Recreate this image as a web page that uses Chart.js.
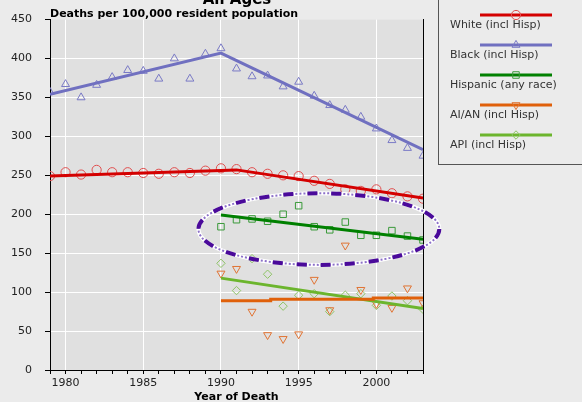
<!DOCTYPE html>
<html>
<head>
<meta charset="utf-8">
<script src="https://cdn.jsdelivr.net/npm/chart.js@4/dist/chart.umd.min.js"></script>
<style>
    html, body { margin: 0; padding: 0; background: #ebebeb; }
    #wrap { width: 582px; height: 402px; }
</style>
</head>
<body>
<div id="wrap"><canvas id="chart" width="582" height="402"></canvas></div>
<script>
// observed rates, per 100,000
const years = [1979, 1980, 1981, 1982, 1983, 1984, 1985, 1986, 1987, 1988, 1989, 1990, 1991,
    1992, 1993, 1994, 1995, 1996, 1997, 1998, 1999, 2000, 2001, 2002, 2003];
const white = [249, 254, 251, 257, 254, 254, 253, 252, 254, 253, 256, 259, 258,
    254, 252, 250, 249, 243, 239, 232, 230, 232, 227, 223, 220];
const black = [357, 367, 350, 366, 376, 385, 384, 374, 400, 374, 406, 413, 387,
    377, 378, 364, 370, 352, 340, 334, 325, 310, 295, 285, 275];

const lateYears = [1990, 1991, 1992, 1993, 1994, 1995, 1996, 1997, 1998, 1999, 2000, 2001, 2002, 2003];
const hispanic = [184, 193, 194, 191, 200, 211, 184, 180, 190, 173, 173, 179, 172, 167];
const aian = [124, 130, 75, 45, 40, 46, 116, 77, 160, 103, 85, 80, 105, 86];
const api = [137, 102, 143, 123, 82, 96, 98, 75, 96, 98, 83, 95, 89, 78];

// fitted trend segments
const whiteFitYears = [1979, 1991, 2003];
const whiteFit = [249, 257, 221];
const blackFitYears = [1979, 1990, 2003];
const blackFit = [354, 407, 283];
const hispanicFitYears = [1990, 2003];
const hispanicFit = [199, 168];
const aianFitYears = [1990, 1993.2, 1993.2, 1999.8, 1999.8, 2003];
const aianFit = [89, 89, 91, 91, 92.5, 92.5];
const apiFitYears = [1990, 2003];
const apiFit = [118, 79];

const seriesNames = ["White (incl Hisp)", "Black (incl Hisp)", "Hispanic (any race)", "AI/AN (incl Hisp)", "API (incl Hisp)"];
const yTicks = [0, 50, 100, 150, 200, 250, 300, 350, 400, 450];

// highlight ellipse, in data units
const ellipseCenter = [1996.3, 181];
const ellipseRadius = [7.75, 46];

const lineColors = ["#d40000", "#7070c0", "#008000", "#e0600a", "#6cb52d"];
const markColors = ["#e05050", "#7a7ac6", "#3a9a3a", "#e07434", "#8ec466"];
const markStyles = [
    { pointStyle: "circle", radius: 4.6, rotation: 0 },
    { pointStyle: "triangle", radius: 4.6, rotation: 0 },
    { pointStyle: "rect", radius: 4.6, rotation: 0 },
    { pointStyle: "triangle", radius: 4.6, rotation: 180 },
    { pointStyle: "rectRot", radius: 4.2, rotation: 0 },
];

const toXY = (xs, ys) => xs.map((x, i) => ({ x: x, y: ys[i] }));

const pointSet = (idx, xs, ys) => ({
    label: seriesNames[idx],
    data: toXY(xs, ys),
    showLine: false,
    pointStyle: markStyles[idx].pointStyle,
    pointRadius: markStyles[idx].radius,
    pointRotation: markStyles[idx].rotation,
    pointBorderColor: markColors[idx],
    pointBackgroundColor: "rgba(0,0,0,0)",
    pointBorderWidth: 1,
});

const fitSet = (idx, xs, ys) => ({
    label: seriesNames[idx] + " fit",
    data: toXY(xs, ys),
    borderColor: lineColors[idx],
    borderWidth: 3,
    pointRadius: 0,
    tension: 0,
    fill: false,
});

const bgPlugin = {
    id: "bg",
    beforeDraw(chart) {
        const { ctx, chartArea: a } = chart;
        ctx.save();
        ctx.fillStyle = "#ebebeb";
        ctx.fillRect(0, 0, chart.width, chart.height);
        ctx.fillStyle = "#e0e0e0";
        ctx.fillRect(a.left, a.top, a.right - a.left, a.bottom - a.top);
        ctx.restore();
    },
};

const ellipsePlugin = {
    id: "ellipse",
    afterDatasetsDraw(chart) {
        const { ctx, scales: { x, y } } = chart;
        const cx = x.getPixelForValue(ellipseCenter[0]);
        const cy = y.getPixelForValue(ellipseCenter[1]);
        const rx = x.getPixelForValue(ellipseCenter[0] + ellipseRadius[0]) - cx;
        const ry = cy - y.getPixelForValue(ellipseCenter[1] + ellipseRadius[1]);
        ctx.save();
        ctx.beginPath();
        ctx.ellipse(cx, cy, rx, ry, 0, 0, Math.PI * 2);
        ctx.strokeStyle = "#ffffff";
        ctx.lineWidth = 4;
        ctx.stroke();
        ctx.setLineDash([2, 2]);
        ctx.lineWidth = 2;
        ctx.strokeStyle = "#8c70c8";
        ctx.stroke();
        ctx.setLineDash([10, 14]);
        ctx.lineWidth = 4;
        ctx.strokeStyle = "#4a0a9a";
        ctx.stroke();
        ctx.restore();
    },
};

const textPlugin = {
    id: "texts",
    afterDraw(chart) {
        const { ctx, chartArea: a } = chart;
        ctx.save();
        ctx.fillStyle = "#000";
        ctx.textAlign = "center";
        ctx.textBaseline = "alphabetic";
        ctx.font = "bold 15px 'DejaVu Sans'";
        ctx.fillText("All Ages", 237, 4);
        ctx.textAlign = "left";
        ctx.font = "bold 11px 'DejaVu Sans'";
        ctx.fillText("Deaths per 100,000 resident population", a.left, 17);

        // legend box
        ctx.fillStyle = "#ebebeb";
        ctx.fillRect(438, -10, 160, 175);
        ctx.strokeStyle = "#555";
        ctx.lineWidth = 1;
        ctx.strokeRect(438.5, -10, 160, 174.5);
        seriesNames.forEach((name, i) => {
            const ly = 15 + i * 30;
            ctx.beginPath();
            ctx.moveTo(480, ly);
            ctx.lineTo(552, ly);
            ctx.strokeStyle = lineColors[i];
            ctx.lineWidth = 3;
            ctx.stroke();
            ctx.strokeStyle = markColors[i];
            ctx.fillStyle = "rgba(0,0,0,0)";
            ctx.lineWidth = 1;
            Chart.helpers.drawPoint(ctx, {
                pointStyle: markStyles[i].pointStyle,
                radius: markStyles[i].radius,
                rotation: markStyles[i].rotation,
                borderWidth: 1,
            }, 516, ly);
            ctx.fillStyle = "#333";
            ctx.font = "11px 'DejaVu Sans'";
            ctx.textBaseline = "middle";
            ctx.fillText(name, 450, ly + 10);
        });
        ctx.restore();
    },
};

Chart.defaults.font.family = "'DejaVu Sans'";
Chart.defaults.font.size = 11;

const ctx = document.getElementById("chart").getContext("2d");
const chart = new Chart(ctx, {
    type: "line",
    data: {
        datasets: [
            fitSet(0, whiteFitYears, whiteFit),
            fitSet(1, blackFitYears, blackFit),
            fitSet(2, hispanicFitYears, hispanicFit),
            fitSet(3, aianFitYears, aianFit),
            fitSet(4, apiFitYears, apiFit),
            pointSet(0, years, white),
            pointSet(1, years, black),
            pointSet(2, lateYears, hispanic),
            pointSet(3, lateYears, aian),
            pointSet(4, lateYears, api),
        ],
    },
    options: {
        responsive: false,
        animation: false,
        devicePixelRatio: 1,
        layout: { padding: { top: 19, right: 159, left: 0, bottom: 0 } },
        plugins: {
            legend: { display: false },
            tooltip: { enabled: false },
        },
        scales: {
            x: {
                type: "linear",
                min: 1979,
                max: 2003,
                ticks: {
                    stepSize: 1,
                    autoSkip: false,
                    maxRotation: 0,
                    color: "#222",
                    padding: 3,
                    callback: (v) => (v % 5 === 0 ? String(v) : ""),
                },
                grid: {
                    color: (c) => (c.tick && c.tick.value % 5 === 0 ? "#ffffff" : "rgba(0,0,0,0)"),
                    tickColor: "#000",
                    tickLength: 4,
                },
                border: { color: "#000", width: 1 },
                title: {
                    display: true,
                    text: "Year of Death",
                    color: "#000",
                    font: { weight: "bold", size: 11 },
                    padding: { top: 0, bottom: -2 },
                },
                afterFit: (s) => { s.height = 32; },
            },
            y: {
                min: 0,
                max: 450,
                afterBuildTicks: (s) => { s.ticks = yTicks.map((v) => ({ value: v })); },
                ticks: { color: "#222", padding: 13 },
                grid: {
                    color: (c) => (c.tick && c.tick.value > 0 && c.tick.value < 450 ? "#ffffff" : "rgba(0,0,0,0)"),
                    tickColor: "#000",
                    tickLength: 5,
                },
                border: { color: "#000", width: 1 },
                afterFit: (s) => { s.width = 50; },
            },
            y2: {
                position: "right",
                min: 0,
                max: 450,
                ticks: { display: false },
                grid: { drawOnChartArea: false, drawTicks: false },
                border: { color: "#000", width: 1 },
                afterFit: (s) => { s.width = 0; },
            },
        },
    },
    plugins: [bgPlugin, ellipsePlugin, textPlugin],
});
</script>
</body>
</html>
